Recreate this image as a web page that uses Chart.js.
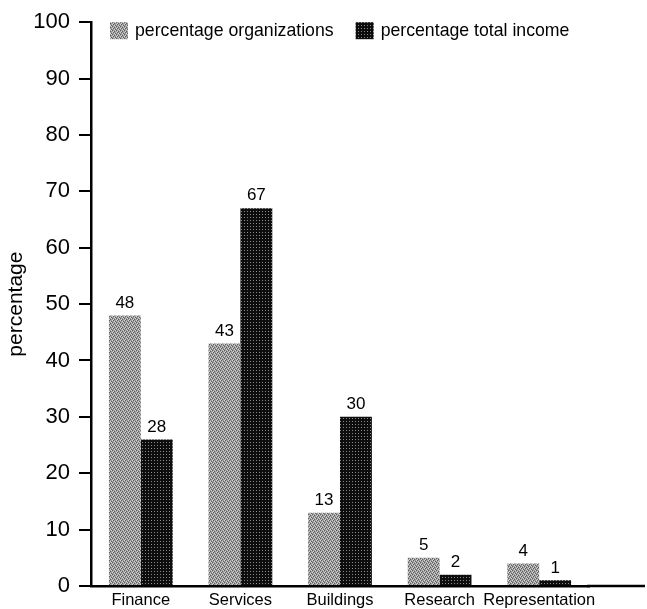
<!DOCTYPE html>
<html>
<head>
<meta charset="utf-8">
<script src="https://cdn.jsdelivr.net/npm/chart.js@4/dist/chart.umd.min.js"></script>
<style>
  html, body { margin:0; padding:0; background:#fff; }
  #wrap { width:647px; height:609px; position:relative; }
</style>
</head>
<body>
<div id="wrap"><canvas id="c"></canvas></div>
<script>
'use strict';

const categories   = ['Finance', 'Services', 'Buildings', 'Research', 'Representation'];
const seriesNames  = ['percentage organizations', 'percentage total income'];
const orgValues    = [48, 43, 13, 5, 4];
const incomeValues = [26, 67, 30, 2, 1];          // bar heights as drawn
const orgLabels    = ['48', '43', '13', '5', '4'];
const incomeLabels = ['28', '67', '30', '2', '1']; // printed numbers (Finance bar is drawn at ~26)
const yTicks       = [0, 10, 20, 30, 40, 50, 60, 70, 80, 90, 100];

const FONT = '"Liberation Sans", Arial, Helvetica, sans-serif';
Chart.defaults.font.family = FONT;
Chart.defaults.color = '#000';

const canvas = document.getElementById('c');

/* stippled fills like the printed original */
function pattern(size, base, dots) {
  const t = document.createElement('canvas');
  t.width = t.height = size;
  const g = t.getContext('2d');
  g.fillStyle = base;
  g.fillRect(0, 0, size, size);
  dots.forEach(([x, y, col]) => { g.fillStyle = col; g.fillRect(x, y, 1, 1); });
  return canvas.getContext('2d').createPattern(t, 'repeat');
}
const L = '#d6d6d6', D = '#5c5c5c';
const greyFill = pattern(4, '#9c9c9c', [
  [0,0,L],[1,0,D],[2,1,L],[3,1,D],[0,2,D],[3,2,L],[1,3,L],[2,3,D]
]);
const darkFill = pattern(3, '#0d0d0d', [[1,1,'#8a8a8a']]);

/* numbers printed above the bars */
const barLabels = {
  id: 'barLabels',
  afterDatasetsDraw(chart) {
    const ctx = chart.ctx;
    const sets = [orgLabels, incomeLabels];
    ctx.save();
    ctx.font = '17px ' + FONT;
    ctx.fillStyle = '#000';
    ctx.textAlign = 'center';
    ctx.textBaseline = 'bottom';
    chart.data.datasets.forEach((ds, i) => {
      chart.getDatasetMeta(i).data.forEach((bar, j) => {
        ctx.fillText(sets[i][j], bar.x, bar.y - 4);
      });
    });
    ctx.restore();
  }
};

/* legend sitting inside the plot, next to the 100 tick */
const boxLegend = {
  id: 'boxLegend',
  afterDraw(chart) {
    const ctx = chart.ctx;
    let x = chart.chartArea.left + 19;
    const y = chart.chartArea.top;
    ctx.save();
    ctx.font = '17.7px ' + FONT;
    ctx.textBaseline = 'middle';
    chart.data.datasets.forEach(ds => {
      ctx.fillStyle = ds.backgroundColor;
      ctx.fillRect(x, y, 18, 17);
      ctx.fillStyle = '#000';
      ctx.fillText(ds.label, x + 25, y + 9);
      x += 25 + ctx.measureText(ds.label).width + 22;
    });
    ctx.restore();
  }
};

/* baseline runs on past the last category */
const longBase = {
  id: 'longBase',
  afterDraw(chart) {
    const { ctx, chartArea } = chart;
    ctx.save();
    ctx.strokeStyle = '#000';
    ctx.lineWidth = 2.5;
    ctx.beginPath();
    ctx.moveTo(chartArea.right - 2, chartArea.bottom);
    ctx.lineTo(645, chartArea.bottom);
    ctx.stroke();
    ctx.restore();
  }
};

new Chart(canvas, {
  type: 'bar',
  data: {
    labels: categories,
    datasets: [
      { label: seriesNames[0], data: orgValues,    backgroundColor: greyFill, borderWidth: 0 },
      { label: seriesNames[1], data: incomeValues, backgroundColor: darkFill, borderWidth: 0 },
    ],
  },
  options: {
    responsive: true, maintainAspectRatio: false, animation: false,
    categoryPercentage: 0.64, barPercentage: 1.0,
    layout: { padding: { top: 18, right: 58, bottom: 0, left: 0 } },
    plugins: { legend: { display: false }, tooltip: { enabled: false } },
    scales: {
      x: {
        grid: { display: false },
        border: { display: true, color: '#000', width: 2.5 },
        ticks: { font: { size: 16.5, lineHeight: 1 }, color: '#000', padding: -2, maxRotation: 0, autoSkip: false },
        afterFit: s => { s.height = 23; },
      },
      y: {
        min: 0, max: 100,
        afterBuildTicks: s => { s.ticks = yTicks.map(v => ({ value: v })); },
        grid: { drawOnChartArea: false, drawTicks: true, tickLength: 12, color: '#000', lineWidth: 2 },
        border: { display: true, color: '#000', width: 2.5 },
        ticks: { font: { size: 22 }, color: '#000', padding: 9 },
        title: { display: true, text: 'percentage', font: { size: 21, lineHeight: 1.2 }, color: '#000', padding: { top: 4, bottom: 0 } },
        afterFit: s => { s.width = 91; },
      },
    },
  },
  plugins: [barLabels, boxLegend, longBase],
});
</script>
</body>
</html>
